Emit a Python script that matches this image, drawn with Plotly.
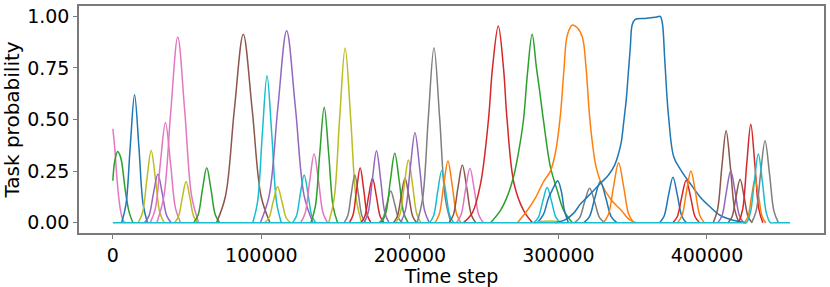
import plotly.graph_objects as go

# matplotlib tab10 palette
palette = {
    "blue": "#1f77b4", "orange": "#ff7f0e", "green": "#2ca02c", "red": "#d62728",
    "purple": "#9467bd", "brown": "#8c564b", "pink": "#e377c2", "gray": "#7f7f7f",
    "olive": "#bcbd22", "cyan": "#17becf",
}

x_ticks = [0, 100000, 200000, 300000, 400000]
x_tick_labels = ["0", "100000", "200000", "300000", "400000"]
y_ticks = [0.0, 0.25, 0.5, 0.75, 1.0]
y_tick_labels = ["0.00", "0.25", "0.50", "0.75", "1.00"]

task_colors = [
    "pink", "green", "blue", "olive", "purple", "pink", "pink", "olive", "green", "brown",
    "cyan", "olive", "purple", "cyan", "pink", "green", "olive", "gray", "red", "red",
    "purple", "gray", "green", "brown", "olive", "purple", "gray", "cyan", "orange", "brown",
    "pink", "red", "green", "orange", "cyan", "blue", "olive", "gray", "blue", "blue",
    "orange", "blue", "red", "orange", "brown", "purple", "brown", "red", "orange", "gray",
    "cyan",
]

task_steps = [
    [0, 1300, 2700, 4000, 5400, 7000, 8500],
    [0, 1300, 3200, 4600, 5800, 8500, 11000, 13500],
    [5900, 8800, 11700, 14600, 17500, 20400, 23300],
    [17100, 20000, 22900, 25800, 28700, 31600, 34500],
    [21300, 24300, 27300, 30300, 33300, 36300, 39300],
    [25200, 28600, 32000, 35400, 38800, 42200, 45600],
    [29600, 34300, 39000, 43700, 48400, 53100, 57800],
    [41500, 44100, 46700, 49300, 51900, 54500, 57100],
    [54500, 57400, 60300, 63200, 66100, 69000, 71900],
    [69800, 75800, 81800, 87800, 93800, 99800, 105800],
    [94200, 97400, 100600, 103800, 107000, 110200, 113400],
    [102200, 105100, 108000, 110900, 113800, 116700, 119600],
    [99300, 105200, 111100, 117000, 122900, 128800, 134700],
    [121000, 123600, 126200, 128800, 131400, 134000, 136600],
    [126500, 129500, 132500, 135500, 138500, 141500, 144500],
    [133300, 136300, 139300, 142300, 145300, 148300, 151300],
    [145300, 149000, 152700, 156400, 160100, 163800, 167500],
    [155700, 158100, 160500, 162900, 165300, 167700, 170100],
    [159300, 161700, 164100, 166500, 168900, 171300, 173700],
    [167000, 169600, 172200, 174800, 177400, 180000, 182600],
    [169100, 171900, 174700, 177500, 180300, 183100, 185900],
    [179300, 181900, 184500, 187100, 189700, 192300, 194900],
    [180800, 183800, 186800, 189800, 192800, 195800, 198800],
    [188900, 191500, 194100, 196700, 199300, 201900, 204500],
    [190600, 193400, 196200, 199000, 201800, 204600, 207400],
    [193800, 197000, 200200, 203400, 206600, 209800, 213000],
    [204800, 208600, 212400, 216200, 220000, 223800, 227600],
    [213300, 216000, 218700, 221400, 224100, 226800, 229500],
    [216900, 219800, 222700, 225600, 228500, 231400, 234300],
    [226300, 229300, 232300, 235300, 238300, 241300, 244300],
    [231400, 234400, 237400, 240400, 243400, 246400, 249400],
    [236100, 242200, 247600, 252900, 255600, 259500, 263000, 265400, 270100, 276500, 282500],
    [254300, 261000, 265700, 269700, 273100, 276500, 279100, 282300, 285200, 287500, 289900,
     294600, 299100, 303500, 309400],
    [272400, 279100, 284500, 289900, 294600, 298000, 301300, 303700, 306000, 309400, 312700,
     316100, 318500, 320800, 322800, 325200, 328900, 335600, 342300, 348000, 352400],
    [283400, 286400, 289400, 292400, 295400, 298400, 301400],
    [285900, 289900, 293300, 295300, 297300, 299500, 302000, 304000, 306700],
    [284000, 288000, 294000, 300000, 304000],
    [310800, 314200, 317600, 321000, 324400, 327800, 331200],
    [317100, 320800, 324500, 328200, 331900, 335600, 339300],
    [298000, 304700, 310100, 314800, 319500, 324200, 328900, 333600, 337600, 340300, 342300,
     344000, 345700, 347000, 348400, 349700, 351700, 358400, 365200, 368500, 369900, 371500,
     372900, 374200, 377600, 382000, 388700, 395400, 402100, 408800, 417600, 426300],
    [330300, 333700, 337100, 340500, 343900, 347300, 350700],
    [368100, 371100, 374100, 377100, 380100, 383100, 386100],
    [377000, 380000, 383000, 386000, 389000, 392000, 395000],
    [380200, 383200, 386200, 389200, 392200, 395200, 398200],
    [404200, 407100, 410000, 412900, 415800, 418700, 421600],
    [407300, 410200, 413100, 416000, 418900, 421800, 424700],
    [414200, 416900, 419600, 422300, 425000, 427700, 430400],
    [421400, 424100, 426800, 429500, 432200, 434900, 437600],
    [425200, 427600, 430000, 432400, 434800, 437200, 439600],
    [430100, 433100, 436100, 439100, 442100, 445100, 448100],
    [0, 423800, 426500, 429200, 431900, 434600, 437300, 440000, 442700, 445400, 456000],
]

task_probs = [
    [0.455, 0.36, 0.22, 0.12, 0.05, 0.01, 0],
    [0.203, 0.30, 0.345, 0.33, 0.30, 0.15, 0.05, 0],
    [0, 0.087, 0.37, 0.62, 0.37, 0.087, 0],
    [0, 0.049, 0.21, 0.35, 0.21, 0.049, 0],
    [0, 0.033, 0.141, 0.235, 0.141, 0.033, 0],
    [0, 0.068, 0.29, 0.486, 0.29, 0.068, 0],
    [0, 0.126, 0.54, 0.90, 0.54, 0.126, 0],
    [0, 0.028, 0.119, 0.199, 0.119, 0.028, 0],
    [0, 0.037, 0.16, 0.266, 0.16, 0.037, 0],
    [0, 0.128, 0.548, 0.913, 0.548, 0.128, 0],
    [0, 0.10, 0.427, 0.712, 0.427, 0.10, 0],
    [0, 0.024, 0.104, 0.174, 0.104, 0.024, 0],
    [0, 0.13, 0.558, 0.93, 0.558, 0.13, 0],
    [0, 0.032, 0.139, 0.231, 0.139, 0.032, 0],
    [0, 0.047, 0.20, 0.333, 0.20, 0.047, 0],
    [0, 0.078, 0.335, 0.559, 0.335, 0.078, 0],
    [0, 0.118, 0.508, 0.846, 0.508, 0.118, 0],
    [0, 0.032, 0.139, 0.231, 0.139, 0.032, 0],
    [0, 0.037, 0.16, 0.266, 0.16, 0.037, 0],
    [0, 0.03, 0.129, 0.215, 0.129, 0.03, 0],
    [0, 0.049, 0.209, 0.349, 0.209, 0.049, 0],
    [0, 0.022, 0.092, 0.154, 0.092, 0.022, 0],
    [0, 0.047, 0.202, 0.336, 0.202, 0.047, 0],
    [0, 0.03, 0.129, 0.215, 0.129, 0.03, 0],
    [0, 0.043, 0.182, 0.304, 0.182, 0.043, 0],
    [0, 0.061, 0.262, 0.436, 0.262, 0.061, 0],
    [0, 0.119, 0.509, 0.848, 0.509, 0.119, 0],
    [0, 0.035, 0.151, 0.252, 0.151, 0.035, 0],
    [0, 0.042, 0.179, 0.299, 0.179, 0.042, 0],
    [0, 0.039, 0.168, 0.28, 0.168, 0.039, 0],
    [0, 0.037, 0.158, 0.264, 0.158, 0.037, 0],
    [0, 0.05, 0.19, 0.5, 0.75, 0.953, 0.75, 0.5, 0.19, 0.06, 0],
    [0, 0.06, 0.13, 0.22, 0.34, 0.5, 0.72, 0.913, 0.75, 0.63, 0.497, 0.27, 0.158, 0.06, 0],
    [0, 0.06, 0.12, 0.198, 0.25, 0.34, 0.52, 0.74, 0.91, 0.958, 0.945, 0.90, 0.76, 0.53,
     0.39, 0.275, 0.19, 0.11, 0.06, 0.013, 0],
    [0, 0.024, 0.102, 0.17, 0.102, 0.024, 0],
    [0, 0.04, 0.12, 0.15, 0.18, 0.203, 0.15, 0.06, 0],
    [0, 0.006, 0.008, 0.006, 0],
    [0, 0.023, 0.10, 0.167, 0.10, 0.023, 0],
    [0, 0.028, 0.12, 0.20, 0.12, 0.028, 0],
    [0, 0.015, 0.045, 0.09, 0.125, 0.16, 0.195, 0.23, 0.275, 0.33, 0.39, 0.49, 0.60, 0.72,
     0.85, 0.96, 0.985, 0.99, 0.995, 1.0, 0.97, 0.80, 0.63, 0.51, 0.32, 0.26, 0.19, 0.125,
     0.077, 0.036, 0.012, 0],
    [0, 0.041, 0.175, 0.291, 0.175, 0.041, 0],
    [0, 0.031, 0.132, 0.22, 0.132, 0.031, 0],
    [0, 0.029, 0.124, 0.206, 0.124, 0.029, 0],
    [0, 0.035, 0.15, 0.25, 0.15, 0.035, 0],
    [0, 0.062, 0.268, 0.446, 0.268, 0.062, 0],
    [0, 0.035, 0.151, 0.252, 0.151, 0.035, 0],
    [0, 0.029, 0.126, 0.21, 0.126, 0.029, 0],
    [0, 0.067, 0.286, 0.477, 0.286, 0.067, 0],
    [0, 0.029, 0.126, 0.21, 0.126, 0.029, 0],
    [0, 0.056, 0.238, 0.397, 0.238, 0.056, 0],
    [0, 0, 0, 0.047, 0.20, 0.333, 0.20, 0.047, 0, 0, 0],
]

fig = go.Figure()
for cname, steps, probs in zip(task_colors, task_steps, task_probs):
    fig.add_trace(go.Scatter(
        x=steps, y=probs, mode="lines",
        line=dict(color=palette[cname], width=1.5, shape="spline", smoothing=1.0),
        showlegend=False, hoverinfo="skip",
    ))

font_family = "DejaVu Sans"
axis_line = "#7a7a7a"
fig.update_layout(
    width=830, height=287,
    margin=dict(l=79, r=6, t=6, b=54, autoexpand=False),
    paper_bgcolor="white", plot_bgcolor="white",
    font=dict(family=font_family, size=19, color="black"),
)
fig.update_xaxes(
    range=[-22800, 478800], tickvals=x_ticks, ticktext=x_tick_labels,
    showgrid=False, zeroline=False, showline=True, mirror=True,
    linecolor=axis_line, linewidth=1.5, ticks="outside", ticklen=4,
    tickcolor=axis_line, tickwidth=1,
    tickfont=dict(family=font_family, size=19, color="black"),
    title=dict(text="Time step", font=dict(family=font_family, size=19, color="black"), standoff=1),
)
fig.update_yaxes(
    range=[-0.05, 1.05], tickvals=y_ticks, ticktext=y_tick_labels,
    showgrid=False, zeroline=False, showline=True, mirror=True,
    linecolor=axis_line, linewidth=1.5, ticks="outside", ticklen=4,
    tickcolor=axis_line, tickwidth=1,
    tickfont=dict(family=font_family, size=19, color="black"),
    title=dict(text="Task probability", font=dict(family=font_family, size=20, color="black"), standoff=2),
)

fig.write_html(
    "out.html",
    config={"displayModeBar": False},
    post_script="document.body.style.margin='0';document.body.style.padding='0';",
)
